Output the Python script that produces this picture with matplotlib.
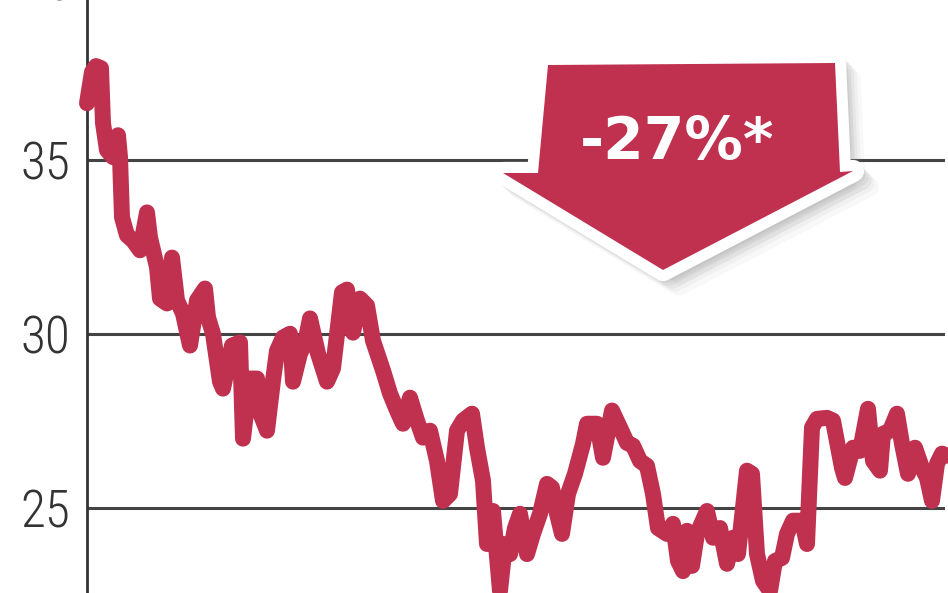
import matplotlib
matplotlib.use('Agg')
import matplotlib.pyplot as plt
from matplotlib.patches import Polygon
from matplotlib import font_manager as fm

# price series (x = trading position, y = price)
days = [0, 5, 9, 14, 16, 20, 26, 31, 33, 35, 40, 46, 53, 60, 63, 70, 73, 80, 85, 90,
        96, 103, 110, 118, 121, 126, 133, 136, 145, 153, 156, 163, 170, 173, 180, 186, 190, 196, 203, 206,
        213, 218, 223, 231, 240, 246, 255, 260, 266, 273, 280, 286, 296, 303, 310, 316, 323, 330, 336, 343,
        350, 356, 363, 370, 376, 385, 390, 396, 400, 406, 413, 418, 423, 428, 433, 440, 446, 453, 460, 465,
        470, 475, 481, 488, 496, 500, 510, 516, 525, 533, 540, 546, 553, 560, 566, 571, 580, 586, 591, 596,
        600, 605, 610, 620, 626, 633, 640, 646, 651, 660, 665, 670, 676, 683, 688, 695, 700, 706, 715, 720,
        725, 730, 740, 746, 755, 758, 766, 773, 781, 786, 793, 796, 803, 810, 815, 821, 828, 835, 840, 845,
        850, 855, 860]
price = [36.64, 37.54, 37.71, 37.65, 36.07, 35.29, 35.09, 35.72, 35.09, 33.36, 32.84, 32.69, 32.41, 33.50, 32.78, 31.92, 31.02, 30.88, 32.20, 30.97,
         30.59, 29.67, 30.97, 31.31, 30.48, 30.01, 28.63, 28.43, 29.67, 29.76, 26.99, 28.72, 28.72, 27.74, 27.22, 28.66, 29.52, 29.90, 30.01, 28.63,
         29.44, 29.73, 30.45, 29.44, 28.63, 29.01, 31.20, 31.28, 30.04, 31.02, 30.82, 29.81, 28.95, 28.29, 27.80, 27.42, 28.17, 27.51, 27.02, 27.22,
         26.35, 25.20, 25.40, 27.22, 27.51, 27.71, 26.73, 25.78, 23.96, 24.91, 22.61, 23.96, 23.67, 24.42, 24.83, 23.67, 24.25, 24.83, 25.69, 25.58,
         24.83, 24.25, 25.40, 25.98, 26.84, 27.42, 27.42, 26.44, 27.80, 27.31, 26.87, 26.79, 26.35, 26.21, 25.40, 24.42, 24.25, 24.54, 23.47, 23.18,
         24.34, 23.33, 24.25, 24.91, 24.14, 24.42, 23.39, 24.14, 23.67, 26.07, 25.98, 23.67, 22.90, 22.61, 23.47, 23.56, 24.25, 24.63, 24.63, 23.96,
         27.31, 27.56, 27.59, 27.51, 26.15, 25.86, 26.73, 26.64, 27.85, 26.35, 26.07, 27.13, 27.22, 27.71, 26.84, 25.98, 26.73, 26.15, 25.86, 25.20,
         26.27, 26.56, 26.50]
yticks = [25, 30, 35]
change_label = '-27%*'

red = '#c0304f'
W, H = 948, 593


def wnum(w):
    return w if isinstance(w, int) else fm.weight_dict.get(w, 400)


def pick_font(weights):
    # look for an upright narrow face, the reference uses a condensed type
    fonts = [f for f in fm.fontManager.ttflist if f.style == 'normal']
    for name in ['Roboto Condensed', 'Liberation Sans Narrow', 'Open Sans Condensed']:
        for w in weights:
            for f in fonts:
                if f.name == name and wnum(f.weight) == w:
                    return fm.FontProperties(fname=f.fname)
    return fm.FontProperties(family='DejaVu Sans', weight=weights[0])


tick_font = pick_font([300, 400])
tick_font.set_size(37)
badge_font = fm.FontProperties(family='DejaVu Sans', weight='bold', size=42)

fig = plt.figure(figsize=(W / 100, H / 100), dpi=100)
ax = fig.add_axes([87 / W, 0, 1 - 90 / W, 1])

ax.plot(days, price, color=red, lw=11.5, solid_capstyle='round', solid_joinstyle='round',
        clip_on=False, zorder=3)

ax.set_xlim(0, 858)
ax.set_ylim(25 - 85 / 34.7, 35 + 160 / 34.7)
ax.set_yticks(yticks)
ax.set_xticks([])
ax.yaxis.grid(True, color='#444444', lw=2.2)
ax.set_axisbelow(True)
for s in ['top', 'right', 'bottom']:
    ax.spines[s].set_visible(False)
ax.spines['left'].set_color('#333333')
ax.spines['left'].set_linewidth(2)
ax.tick_params(axis='y', length=0, pad=12, labelcolor='#333333')
for lab in ax.get_yticklabels():
    lab.set_fontproperties(tick_font)
# the "40" label sits mostly above the frame, only its lower part shows
ax.text(-0.017, 40, '40', transform=ax.get_yaxis_transform(), ha='right', va='center',
        fontproperties=tick_font, color='#333333', clip_on=False)

# big down arrow badge
def fpts(pts, dx=0, dy=0):
    return [((x + dx) / W, 1 - (y + dy) / H) for x, y in pts]

arrow_px = [(548, 65), (835, 63), (840, 172), (853, 171), (663, 270), (503, 173), (538, 173)]
for off, a in [(16, 0.05), (12, 0.07), (9, 0.09), (6, 0.11), (3, 0.12)]:
    fig.patches.append(Polygon(fpts(arrow_px, off, off), closed=True, transform=fig.transFigure,
                               facecolor='#888888', edgecolor='#888888', lw=14, alpha=a,
                               joinstyle='round', zorder=5))
fig.patches.append(Polygon(fpts(arrow_px), closed=True, transform=fig.transFigure,
                           facecolor='white', edgecolor='white', lw=16, joinstyle='round', zorder=6))
fig.patches.append(Polygon(fpts(arrow_px), closed=True, transform=fig.transFigure,
                           facecolor=red, edgecolor='none', zorder=7))
fig.text(677 / W, 1 - 143 / H, change_label, ha='center', va='center',
         fontproperties=badge_font, color='white', zorder=8)

plt.savefig('out.png', dpi=100)
